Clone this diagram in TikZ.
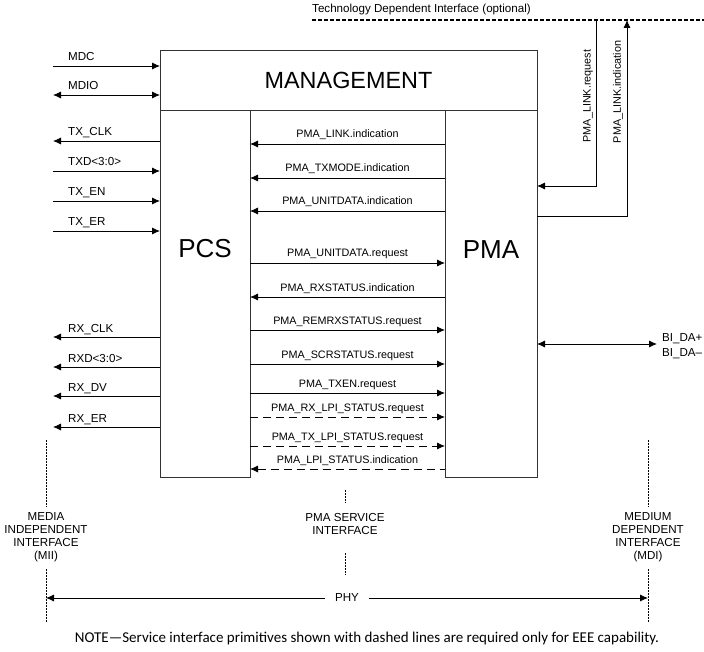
\documentclass[tikz,border=0pt]{standalone}
\usepackage{fontspec}
\setmainfont{Liberation Sans}
\newfontfamily\notefont{Carlito}
\usetikzlibrary{arrows.meta,positioning,calc}

\begin{document}
\begin{tikzpicture}[x=1pt,y=-1pt,
  box/.style={draw=black!80, line width=0.8pt, inner sep=0pt, outer sep=0pt},
  sig/.style={font=\fontsize{11.6}{13}\selectfont, inner sep=0pt},
  prim/.style={font=\fontsize{10.8}{12}\selectfont, inner sep=0pt},
  sigin/.style={line width=0.8pt, -{Latex[length=8pt,width=7pt]}},
  sigout/.style={line width=0.8pt, {Latex[length=8pt,width=7pt]}-},
  sigboth/.style={line width=0.8pt, {Latex[length=8pt,width=7pt]}-{Latex[length=8pt,width=7pt]}},
  eeein/.style={sigin, dash pattern=on 8pt off 5pt},
  eeeout/.style={sigout, dash pattern=on 8pt off 5pt},
  iface/.style={line width=1pt, dash pattern=on 2pt off 1pt},
]
\useasboundingbox (0,0) rectangle (704,652);

% Boxes
\node[box, minimum width=377pt, minimum height=60pt, anchor=north west] (mgmt) at (160,50) {};
\node[box, minimum width=90pt, minimum height=367pt, anchor=north west] (pcs) at (160,110) {};
\node[box, minimum width=92pt, minimum height=367pt, anchor=north west] (pma) at (445,110) {};
\node[font=\fontsize{23.4}{25}\selectfont] (mgmttxt) at (mgmt.center) {MANAGEMENT};
\node[font=\fontsize{26}{28}\selectfont] (pcstxt) at ($(pcs.north)+(0,139)$) {PCS};
\node[font=\fontsize{26}{28}\selectfont] (pmatxt) at ($(pma.north)+(0,140)$) {PMA};

% Management signals
\coordinate (mdc) at (53,66);
\coordinate (mdio) at (53,95);
\draw[sigin] (mdc) -- (mdc -| mgmt.west);
\draw[sigboth] (mdio) -- (mdio -| mgmt.west);
\node[sig, anchor=base west] (mdclbl) at (68,61) {MDC};
\node[sig, anchor=base west] (mdiolbl) at (68,90) {MDIO};

% MII signals
\foreach \y/\txt/\dir [count=\i] in {141/TX\_CLK/sigout, 171/TXD<3:0>/sigin,
    201/TX\_EN/sigin, 231/TX\_ER/sigin, 337/RX\_CLK/sigout,
    367/RXD<3:0>/sigout, 396/RX\_DV/sigout, 427/RX\_ER/sigout}
{
  \coordinate (mii\i) at (53,\y);
  \draw[\dir] (mii\i) -- (mii\i -| pcs.west);
  \node[sig, anchor=base west] (miilbl\i) at (68,\y-5) {\txt};
}

% PMA service primitives
\foreach \dy/\txt/\dir [count=\i] in {34/PMA\_LINK.indication/sigout,
    68/PMA\_TXMODE.indication/sigout, 101/PMA\_UNITDATA.indication/sigout,
    153/PMA\_UNITDATA.request/sigin, 187/PMA\_RXSTATUS.indication/sigout,
    220/PMA\_REMRXSTATUS.request/sigin, 254/PMA\_SCRSTATUS.request/sigin,
    283/PMA\_TXEN.request/sigin, 307/PMA\_RX\_LPI\_STATUS.request/eeein,
    336/PMA\_TX\_LPI\_STATUS.request/eeein, 359/PMA\_LPI\_STATUS.indication/eeeout}
{
  \draw[\dir] ($(pcs.north east)+(0,\dy)$) -- ($(pma.north west)+(0,\dy)$)
    node[prim, midway, anchor=base, yshift=6pt] (prim\i) {\txt};
}

% Technology dependent interface
\coordinate (tdil) at (312,20);
\coordinate (tdir) at (704,20);
\draw[line width=1.2pt, dash pattern=on 4pt off 2pt] (tdil) -- (tdir);
\node[sig, anchor=west] (tdi) at (312,10) {Technology Dependent Interface (optional)};
\coordinate (linkreq) at (596,20);
\coordinate (linkind) at (627,20);
\draw[sigin] (linkreq) |- ($(pma.north east)+(0,76)$);
\draw[sigin] ($(pma.north east)+(0,106)$) -| (linkind);
\node[prim, rotate=90] (lreqlbl) at (588,96) {PMA\_LINK.request};
\node[prim, rotate=90] (lindlbl) at (618,92) {PMA\_LINK.indication};

% MDI signal
\coordinate (mdi) at (657,344);
\draw[sigboth] ($(pma.north east)+(0,234)$) -- (mdi);
\node[sig, anchor=west, align=left, font=\fontsize{11.6}{14.5}\selectfont] (bida) at (662,346) {BI\_DA+\\BI\_DA–};

% Interfaces
\draw[iface] (46,440) -- (46,507) (46,569) -- (46,622);
\draw[iface] (345,490) -- (345,503) (345,553) -- (345,575);
\draw[iface] (648,440) -- (648,507) (648,569) -- (648,622);
\node[sig, align=center] (miilbl) at (46,537) {MEDIA\\INDEPENDENT\\INTERFACE\\(MII)};
\node[sig, align=center] (psilbl) at (345,524) {PMA SERVICE\\INTERFACE};
\node[sig, align=center] (mdilbl) at (648,537) {MEDIUM\\DEPENDENT\\INTERFACE\\(MDI)};

% PHY
\coordinate (phyl) at (46,598);
\coordinate (phyr) at (648,598);
\draw[sigboth] (phyl) -- (phyr) node[sig, midway, fill=white, inner xsep=10pt, inner ysep=2pt] (phy) {PHY};

% Note
\node[font=\notefont\fontsize{15}{17}\selectfont] (note) at (367,638) {NOTE—Service interface primitives shown with dashed lines are required only for EEE capability.};
\end{tikzpicture}
\end{document}
